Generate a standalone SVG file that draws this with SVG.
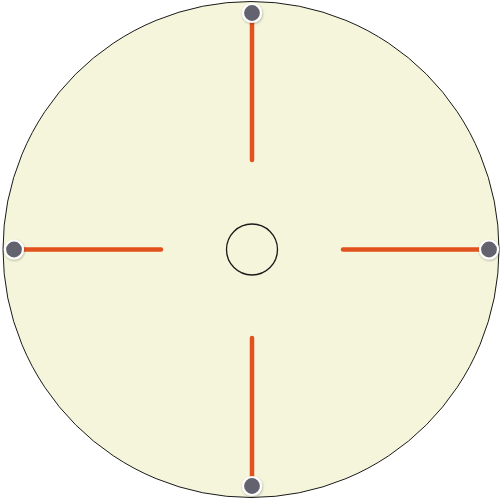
<svg xmlns="http://www.w3.org/2000/svg" width="500" height="500" viewBox="0 0 500 500">
<style>
.ring{fill:#f5f5dc;stroke:#1a1a1a;stroke-width:1}
.hub{fill:none;stroke:#1a1a1a;stroke-width:1.3}
.spoke{stroke:#e2521e;stroke-width:4.5;stroke-linecap:round;fill:none}
.dot{fill:#63636f;stroke:#ffffff;stroke-width:2.2;filter:url(#sh)}
</style>
<defs>
<filter id="sh" x="-50%" y="-50%" width="200%" height="200%">
<feDropShadow dx="0.5" dy="1" stdDeviation="1" flood-color="#000" flood-opacity="0.3"/>
</filter>
</defs>
<rect width="500" height="500" fill="#ffffff"/>
<g id="outer"><circle class="ring" cx="251" cy="249.5" r="248"/></g>
<g id="center"><circle class="hub" cx="252" cy="249.5" r="25.5"/></g>
<g id="connectors">
<line class="spoke" x1="252" y1="14" x2="252" y2="160"/>
<line class="spoke" x1="14" y1="249.5" x2="161" y2="249.5"/>
<line class="spoke" x1="343" y1="249.5" x2="489" y2="249.5"/>
<line class="spoke" x1="252" y1="338" x2="252" y2="486"/>
</g>
<g id="n-top"><circle class="dot" cx="252" cy="13" r="9"/></g>
<g id="n-left"><circle class="dot" cx="14" cy="249.5" r="9"/></g>
<g id="n-right"><circle class="dot" cx="489" cy="249.5" r="9"/></g>
<g id="n-bottom"><circle class="dot" cx="252" cy="486" r="9"/></g>
</svg>
